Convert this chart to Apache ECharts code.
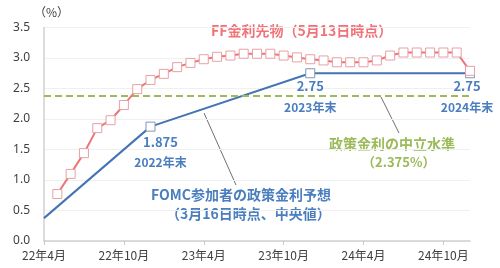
<!DOCTYPE html>
<html>
<head>
<meta charset="utf-8">
<script src="https://cdn.jsdelivr.net/npm/echarts@6/dist/echarts.min.js"></script>
<style>
html,body{margin:0;padding:0;background:#fff;}
#c{width:500px;height:268px;}
</style>
</head>
<body>
<div id="c"></div>
<script>
var categories = ['22年4月','22年5月','22年6月','22年7月','22年8月','22年9月','22年10月','22年11月','22年12月',
  '23年1月','23年2月','23年3月','23年4月','23年5月','23年6月','23年7月','23年8月','23年9月','23年10月','23年11月','23年12月',
  '24年1月','24年2月','24年3月','24年4月','24年5月','24年6月','24年7月','24年8月','24年9月','24年10月','24年11月','24年12月'];
var ffFutures = [null,0.77,1.10,1.44,1.85,1.98,2.23,2.49,2.64,
  2.74,2.85,2.92,2.98,3.02,3.04,3.07,3.07,3.07,3.04,3.01,2.98,
  2.96,2.93,2.93,2.93,2.96,3.04,3.09,3.09,3.09,3.09,3.09,2.79];
var fomcMonths = ['22年4月','22年12月','23年12月','24年12月'];
var fomcValues = [0.375,1.875,2.75,2.75];
var fomcValueText = [null,'1.875','2.75','2.75'];
var fomcLabels = [null,'2022年末','2023年末','2024年末'];
var neutralRate = 2.375;
var yTicks = [0,0.5,1.0,1.5,2.0,2.5,3.0,3.5];

var RED = '#f07378', BLUE = '#4573b4', BLUE_T = '#4a7ebf', GREEN = '#9bbb59';
var FONT = '"Noto Sans CJK JP", "Noto Sans", sans-serif';
var labelOffsets = [null,[10,0],[0,-2],[-3,-2]];

var fomcData = fomcMonths.map(function(m, i){
  var item = {value:[m, fomcValues[i]]};
  if (fomcLabels[i]) {
    item.symbol = 'rect';
    item.symbolSize = 9;
    item.label = {
      show:true, position:'bottom', distance:1,
      offset: labelOffsets[i],
      formatter: '{n|' + fomcValueText[i] + '}\n{y|' + fomcLabels[i] + '}',
      rich:{
        n:{fontSize:13, fontWeight:'bold', color:BLUE_T, fontFamily:FONT, lineHeight:18},
        y:{fontSize:12, fontWeight:'bold', color:BLUE_T, fontFamily:FONT, lineHeight:24}
      }
    };
  } else {
    item.symbol = 'none';
  }
  return item;
});

var chart = echarts.init(document.getElementById('c'), null, {renderer:'canvas'});
chart.setOption({
  animation:false,
  backgroundColor:'#fff',
  grid:{left:44, right:30, top:27.5, bottom:27, containLabel:false},
  xAxis:{
    type:'category', data:categories, boundaryGap:false,
    axisLine:{show:true, lineStyle:{color:'#d0d0d0', width:1.5}},
    axisTick:{show:true, interval:5, length:4, lineStyle:{color:'#c8c8c8'}},
    axisLabel:{interval:5, color:'#404040', fontSize:12, fontFamily:FONT, margin:8},
    splitLine:{show:false}
  },
  yAxis:{
    type:'value', min:yTicks[0], max:yTicks[yTicks.length-1], interval:0.5,
    axisLine:{show:true, lineStyle:{color:'#d0d0d0', width:1.5}},
    axisTick:{show:false},
    axisLabel:{color:'#404040', fontSize:12, fontFamily:'"Noto Sans", sans-serif', margin:14,
      formatter:function(v){return v.toFixed(1);}},
    splitLine:{show:true, lineStyle:{color:'#f0f0f0', width:1}}
  },
  series:[
    {
      name:'neutral', type:'line', data:[], symbol:'none',
      markLine:{
        silent:true, symbol:'none', label:{show:false},
        lineStyle:{color:GREEN, type:[7,4], width:2},
        data:[{yAxis:neutralRate}]
      }
    },
    {
      name:'FOMC', type:'line', data:fomcData, z:3,
      showSymbol:true, showAllSymbol:true,
      lineStyle:{color:BLUE, width:2},
      itemStyle:{color:'#fff', borderColor:'#7f96b8', borderWidth:1}
    },
    {
      name:'FF', type:'line', data:ffFutures, z:4,
      symbol:'rect', symbolSize:9, showSymbol:true, showAllSymbol:true,
      lineStyle:{color:RED, width:2},
      itemStyle:{color:'#fff', borderColor:'#e8a0a4', borderWidth:1}
    }
  ],
  graphic:[
    {type:'text', left:34, top:6, style:{text:'（%）', fill:'#404040', font:'12px ' + FONT}},
    {type:'text', left:211, top:24, style:{text:'FF金利先物（5月13日時点）', fill:RED, font:'bold 14px ' + FONT}},
    {type:'text', left:329, top:137, style:{text:'政策金利の中立水準', fill:GREEN, font:'bold 14px ' + FONT}},
    {type:'text', left:362, top:156, style:{text:'（2.375%）', fill:GREEN, font:'bold 13px ' + FONT}},
    {type:'text', left:151, top:188, style:{text:'FOMC参加者の政策金利予想', fill:BLUE_T, font:'bold 14px ' + FONT}},
    {type:'text', left:166, top:207, style:{text:'（3月16日時点、中央値）', fill:BLUE_T, font:'bold 14px ' + FONT}},
    {type:'line', shape:{x1:381, y1:97, x2:399, y2:133}, style:{stroke:'#707070', lineWidth:1}},
    {type:'line', shape:{x1:204, y1:113, x2:236, y2:185}, style:{stroke:'#707070', lineWidth:1}}
  ]
});
</script>
</body>
</html>
